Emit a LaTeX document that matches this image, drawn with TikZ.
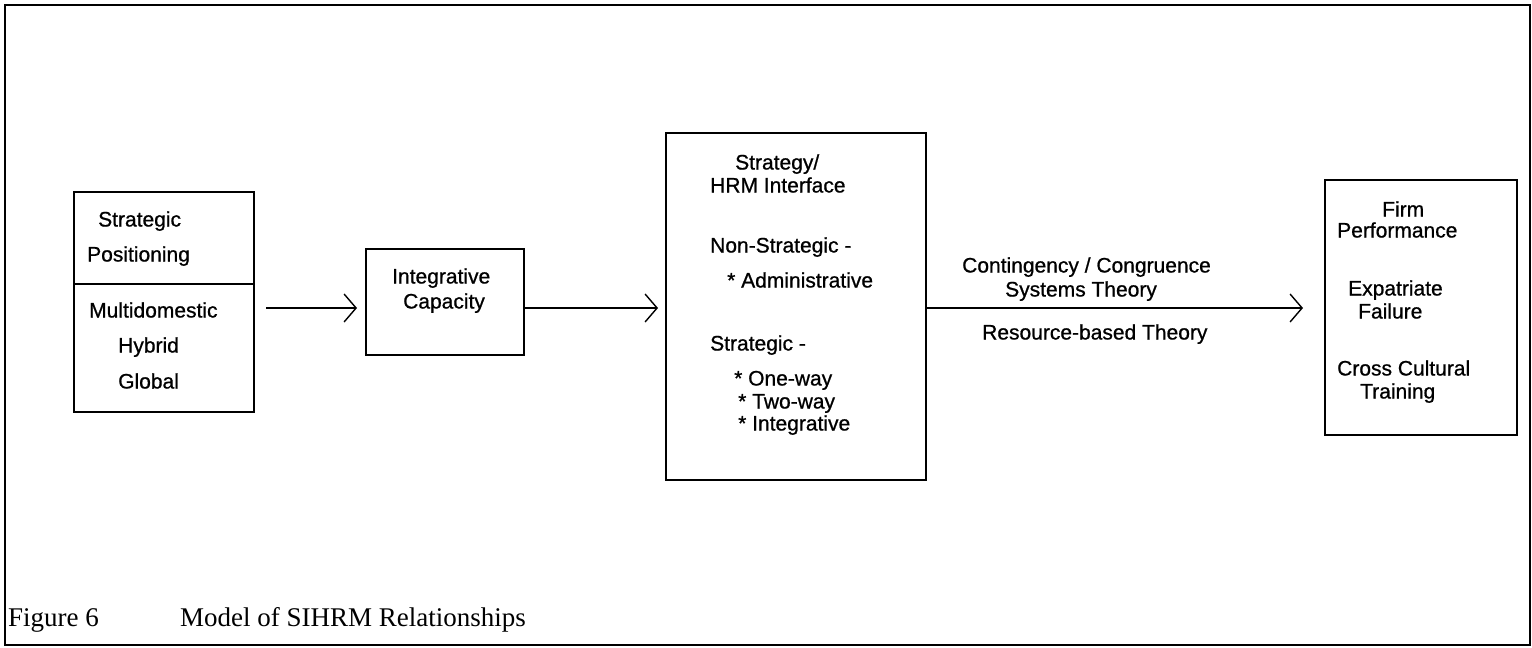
\documentclass[tikz,border=0pt]{standalone}
\usepackage{fontspec}
\setmainfont{Liberation Serif}
\newfontfamily\boxfont[FakeBold=0.8]{Liberation Sans}
\usetikzlibrary{arrows.meta}
\begin{document}
\begin{tikzpicture}[x=1pt,y=-1pt,
  box/.style={draw, line width=1.8pt, inner sep=0pt, outer sep=0pt},
  frame/.style={draw, line width=2.6pt, inner sep=0pt, outer sep=0pt},
  lbl/.style={anchor=west, inner sep=0pt, font=\boxfont\fontsize{21}{25}\selectfont,
              text height=15pt, text depth=4pt},
  captext/.style={anchor=west, inner sep=0pt, font=\fontsize{27}{32}\selectfont,
              text height=19pt, text depth=6pt},
  arr/.style={line width=1.4pt, -{Straight Barb[length=12pt,width=28pt,line width=1.4pt]}}]
\useasboundingbox (0,0) rectangle (1532,648);
\fill[white] (0,0) rectangle (1532,648);

% outer frame
\node[frame, minimum width=1525pt, minimum height=640pt] (frame) at (767.5,325) {};

% boxes
\node[box, minimum width=180pt, minimum height=220pt] (sp) at (164,302) {};
\node[box, minimum width=158pt, minimum height=106pt] (ic) at (445,302) {};
\node[box, minimum width=260pt, minimum height=347pt] (hrm) at (796,306.5) {};
\node[box, minimum width=192pt, minimum height=255pt] (fp) at (1421,307.5) {};

% divider in the positioning box
\coordinate (div) at (0,284);
\draw[line width=1.8pt] (sp.west |- div) -- (sp.east |- div);

% connectors
\coordinate (ax) at (0,308);
\draw[arr, shorten <=12pt, shorten >=9pt] (sp.east |- ax) -- (ic.west |- ax);
\draw[arr, shorten >=8pt] (ic.east |- ax) -- (hrm.west |- ax);
\draw[arr, shorten >=22pt] (hrm.east |- ax) -- (fp.west |- ax);

% positioning box text
\node[lbl] (sp1) at (98,221) {Strategic};
\node[lbl] (sp2) at (87,256) {Positioning};
\node[lbl] (sp3) at (89,312) {Multidomestic};
\node[lbl] (sp4) at (118,347) {Hybrid};
\node[lbl] (sp5) at (118,383) {Global};

% integrative capacity
\node[lbl] (ic1) at (392,278) {Integrative};
\node[lbl] (ic2) at (403,303) {Capacity};

% strategy/HRM interface
\node[lbl] (h1) at (735,164) {Strategy/};
\node[lbl] (h2) at (710,187) {HRM Interface};
\node[lbl] (h3) at (710,247) {Non-Strategic -};
\node[lbl] (h4) at (727,282) {* Administrative};
\node[lbl] (h5) at (710,345) {Strategic -};
\node[lbl] (h6) at (734,380) {* One-way};
\node[lbl] (h7) at (738,403) {* Two-way};
\node[lbl] (h8) at (738,425) {* Integrative};

% theory labels on the long connector
\node[lbl] (th1) at (962,267) {Contingency / Congruence};
\node[lbl] (th2) at (1005,291) {Systems Theory};
\node[lbl] (th3) at (982,334) {Resource-based Theory};

% outcomes
\node[lbl] (fp1) at (1382,211) {Firm};
\node[lbl] (fp2) at (1337,232) {Performance};
\node[lbl] (fp3) at (1348,290) {Expatriate};
\node[lbl] (fp4) at (1358,313) {Failure};
\node[lbl] (fp5) at (1337,370) {Cross Cultural};
\node[lbl] (fp6) at (1360,393) {Training};

% caption
\node[captext] (cap1) at (8,620) {Figure 6};
\node[captext] (cap2) at (180,620) {Model of SIHRM Relationships};
\end{tikzpicture}
\end{document}
